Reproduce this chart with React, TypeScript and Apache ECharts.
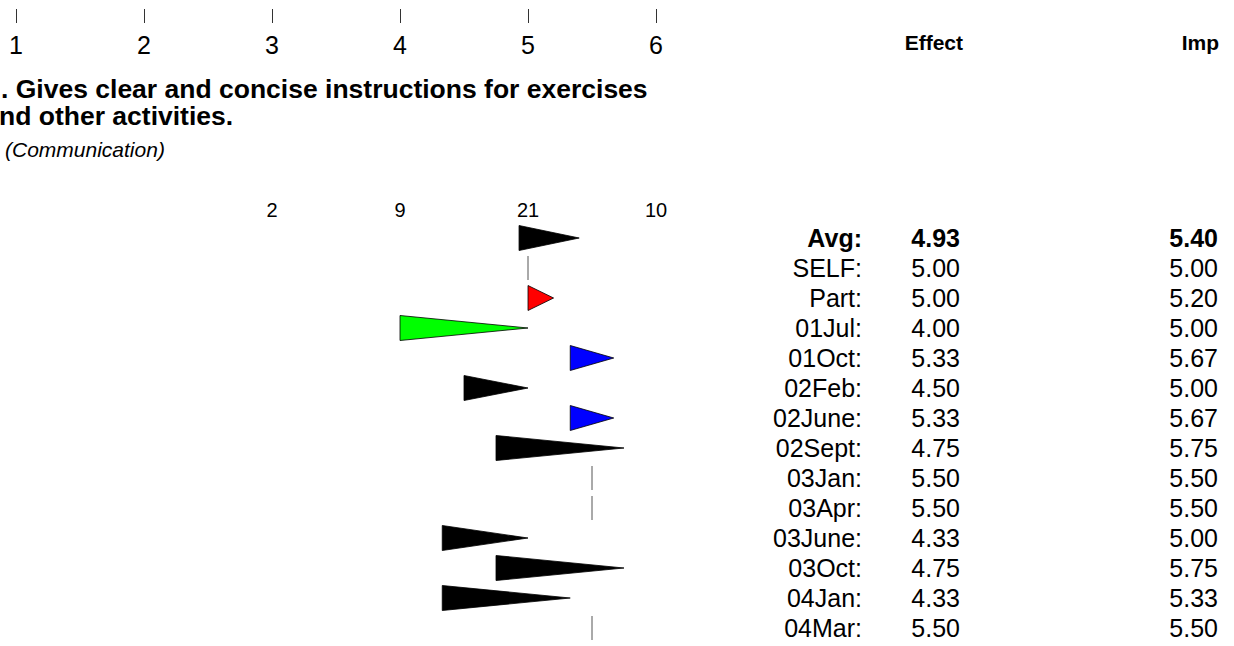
import React, { useEffect, useRef } from "react";
import * as echarts from "echarts";

const tickValues = [1, 2, 3, 4, 5, 6];
const countPositions = [3, 4, 5, 6];
const counts = [2, 9, 21, 10];
const rowLabels = ["Avg", "SELF", "Part", "01Jul", "01Oct", "02Feb", "02June", "02Sept", "03Jan", "03Apr", "03June", "03Oct", "04Jan", "04Mar"];
const effectValues = [4.93, 5.0, 5.0, 4.0, 5.33, 4.5, 5.33, 4.75, 5.5, 5.5, 4.33, 4.75, 4.33, 5.5];
const impValues = [5.4, 5.0, 5.2, 5.0, 5.67, 5.0, 5.67, 5.75, 5.5, 5.5, 5.0, 5.75, 5.33, 5.5];
const rowColors = ["#000000", "#000000", "#ff0000", "#00ff00", "#0000ff", "#000000", "#0000ff", "#000000", "#000000", "#000000", "#000000", "#000000", "#000000", "#000000"];
const titleLine1 = ". Gives clear and concise instructions for exercises";
const titleLine2 = "nd other activities.";
const subtitle = "(Communication)";
const headerEffect = "Effect";
const headerImp = "Imp";

const FONT = "'Liberation Sans', Arial, Helvetica, sans-serif";

export default function App() {
  const ref = useRef<HTMLDivElement>(null);
  useEffect(() => {
    if (!ref.current) return;
    const chart = echarts.init(ref.current, null, { renderer: "svg" });
    const rowAxis = (offset: number, fmt: (v: string, i: number) => string) => ({
      gridIndex: 1,
      type: "category",
      data: rowLabels,
      inverse: true,
      position: "right",
      offset,
      axisLine: { show: false },
      axisTick: { show: false },
      splitLine: { show: false },
      axisLabel: {
        margin: 0,
        align: "right",
        formatter: fmt,
        rich: {
          b: { fontFamily: FONT, fontSize: 25, fontWeight: "bold", color: "#000" },
          n: { fontFamily: FONT, fontSize: 25, color: "#000" },
        },
      },
    });
    const option: any = {
      animation: false,
      backgroundColor: "#ffffff",
      textStyle: { fontFamily: FONT },
      grid: [
        { left: 16, width: 640, top: 22, height: 1 },
        { left: 16, width: 640, top: 223, height: 420 },
      ],
      xAxis: [
        {
          gridIndex: 0,
          type: "value",
          min: 1,
          max: 6,
          interval: 1,
          position: "top",
          axisLine: { show: false },
          axisTick: { show: true, length: 14, lineStyle: { color: "#333", width: 1 } },
          splitLine: { show: false },
          axisLabel: { inside: true, margin: 10, fontSize: 25, color: "#000", fontFamily: FONT },
          data: tickValues,
        },
        {
          gridIndex: 1,
          type: "value",
          min: 1,
          max: 6,
          interval: 1,
          position: "top",
          axisLine: { show: false },
          axisTick: { show: false },
          splitLine: { show: false },
          axisLabel: {
            margin: 3,
            fontSize: 20,
            color: "#000",
            fontFamily: FONT,
            formatter: (v: number) => {
              const k = countPositions.indexOf(v);
              return k >= 0 ? String(counts[k]) : "";
            },
          },
        },
      ],
      yAxis: [
        { gridIndex: 0, type: "value", show: false },
        rowAxis(206, (v: string, i: number) => (i === 0 ? `{b|${v}:}` : `{n|${v}:}`)),
        rowAxis(304, (_v: string, i: number) => (i === 0 ? `{b|${effectValues[i].toFixed(2)}}` : `{n|${effectValues[i].toFixed(2)}}`)),
        rowAxis(562, (_v: string, i: number) => (i === 0 ? `{b|${impValues[i].toFixed(2)}}` : `{n|${impValues[i].toFixed(2)}}`)),
      ],
      series: [
        {
          type: "custom",
          xAxisIndex: 1,
          yAxisIndex: 1,
          encode: { x: [0, 1], y: 2 },
          data: rowLabels.map((_, i) => [effectValues[i], impValues[i], i]),
          renderItem: (params: any, api: any) => {
            const i = api.value(2);
            const p0 = api.coord([api.value(0), i]);
            const p1 = api.coord([api.value(1), i]);
            const h = 12.5;
            if (Math.abs(p1[0] - p0[0]) < 0.5) {
              return {
                type: "line",
                shape: { x1: p0[0], y1: p0[1] - 12, x2: p0[0], y2: p0[1] + 12 },
                style: { stroke: "#555", lineWidth: 1 },
              };
            }
            return {
              type: "polygon",
              shape: { points: [[p0[0], p0[1] - h], [p0[0], p0[1] + h], [p1[0], p1[1]]] },
              style: { fill: rowColors[params.dataIndex], stroke: "#000", lineWidth: 0.8 },
            };
          },
        },
      ],
      graphic: [
        { type: "text", left: 1, top: 75, style: { text: titleLine1, font: `bold 26.5px ${FONT}`, fill: "#000" } },
        { type: "text", left: -1, top: 102, style: { text: titleLine2, font: `bold 26.5px ${FONT}`, fill: "#000" } },
        { type: "text", left: 5, top: 139, style: { text: subtitle, font: `italic 21px ${FONT}`, fill: "#000" } },
        { type: "text", x: 963, y: 42, style: { text: headerEffect, font: `bold 21px ${FONT}`, fill: "#000", align: "right", verticalAlign: "middle" } },
        { type: "text", x: 1219, y: 42, style: { text: headerImp, font: `bold 21px ${FONT}`, fill: "#000", align: "right", verticalAlign: "middle" } },
      ],
    };
    chart.setOption(option);
    return () => chart.dispose();
  }, []);
  return <div ref={ref} style={{ position: "absolute", left: 0, top: 0, width: 1234, height: 646 }} />;
}
